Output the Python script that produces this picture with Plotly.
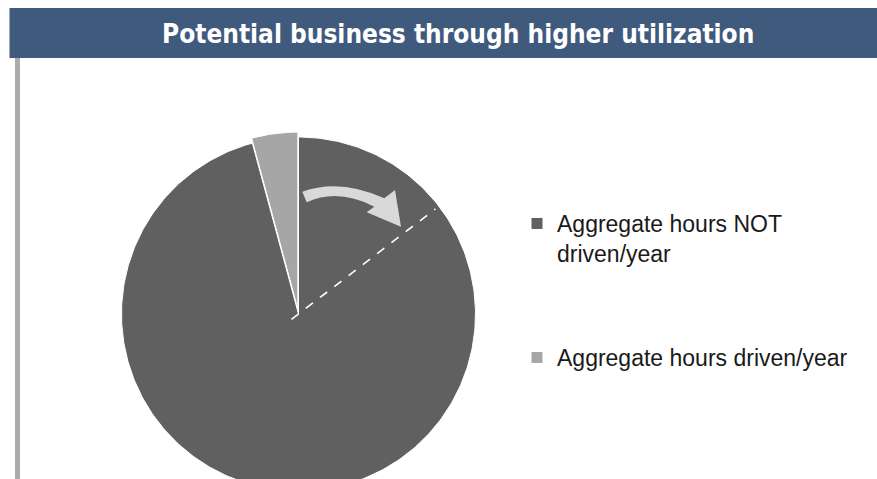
import math
import plotly.graph_objects as go

# ---- data ----
categories = ["Aggregate hours NOT driven/year", "Aggregate hours driven/year"]
legend_labels = ["Aggregate hours NOT<br>driven/year", "Aggregate hours driven/year"]
shares = [95.8, 4.2]
colors = ["#606060", "#A6A6A6"]
pulls = [0.0, 0.028]
title_text = "Potential business through higher utilization"
target_angle_deg = 52.5  # dashed marker line, clockwise from 12 o'clock

W, H = 877, 479
CX, CY, R = 298.5, 314.0, 177.0  # pixel geometry of the pie


def px_to_data(px, py):
    return (px - CX) / R, (CY - py) / R


fig = go.Figure()

total = sum(shares)
start = 0.0
for i, (cat, val) in enumerate(zip(categories, shares)):
    a0 = 2 * math.pi * start / total
    a1 = 2 * math.pi * (start + val) / total
    mid = (a0 + a1) / 2
    ox, oy = pulls[i] * math.sin(mid), pulls[i] * math.cos(mid)
    n = max(4, int(400 * val / total))
    xs = [ox]
    ys = [oy]
    for k in range(n + 1):
        t = a0 + (a1 - a0) * k / n
        xs.append(ox + math.sin(t))
        ys.append(oy + math.cos(t))
    xs.append(ox)
    ys.append(oy)
    fig.add_trace(go.Scatter(
        x=xs, y=ys, mode="lines", fill="toself",
        fillcolor=colors[i], line=dict(color="white", width=1),
        name=cat, showlegend=False, hoverinfo="name",
    ))
    start += val

# legend entries (square markers)
for i, lab in enumerate(legend_labels):
    fig.add_trace(go.Scatter(
        x=[None], y=[None], mode="markers",
        marker=dict(symbol="square", size=11, color=colors[i]),
        name=lab, showlegend=True,
        legend="legend" if i == 0 else "legend2",
    ))

# dashed target line
ta = math.radians(target_angle_deg)
r0, r1 = -0.05, 0.975
fig.add_shape(type="line", xref="x", yref="y",
              x0=r0 * math.sin(ta), y0=r0 * math.cos(ta),
              x1=r1 * math.sin(ta), y1=r1 * math.cos(ta),
              line=dict(color="white", width=1.6, dash="dash"))

# curved arrow
def P(px, py):
    x, y = px_to_data(px, py)
    return f"{x:.4f},{y:.4f}"

arrow_path = (
    f"M {P(302.3,191.7)} Q {P(340,178)} {P(384.3,198.3)} "
    f"L {P(395,190)} L {P(401,226.7)} L {P(366.7,212.3)} L {P(374.3,206.7)} "
    f"Q {P(338,188)} {P(306.7,202.3)} Z"
)
fig.add_shape(type="path", xref="x", yref="y", path=arrow_path,
              fillcolor="#D9D9D9", line=dict(width=0))

# title bar and left bar
fig.add_shape(type="rect", xref="paper", yref="paper",
              x0=9.5 / W, x1=1, y0=1 - 58 / H, y1=1 - 8 / H,
              fillcolor="#405A7E", line=dict(width=0), layer="above")
fig.add_shape(type="rect", xref="paper", yref="paper",
              x0=15 / W, x1=20 / W, y0=0, y1=1 - 58 / H,
              fillcolor="#ABABAB", line=dict(width=0), layer="above")
fig.add_annotation(text=f"<b>{title_text}</b>", xref="paper", yref="paper",
                   x=457.5 / W, y=1 - 34 / H, xanchor="center", yanchor="middle",
                   showarrow=False,
                   font=dict(family="DejaVu Sans Condensed, Arial", size=26, color="white"))

legend_font = dict(family="Liberation Sans, Arial", size=23, color="#1A1A1A")
fig.update_layout(
    width=W, height=H,
    margin=dict(l=0, r=0, t=0, b=0),
    paper_bgcolor="white", plot_bgcolor="white",
    xaxis=dict(range=[-CX / R, (W - CX) / R], visible=False, fixedrange=True),
    yaxis=dict(range=[-(H - CY) / R, CY / R], visible=False, fixedrange=True),
    legend=dict(x=517 / W, y=1 - 202 / H, xanchor="left", yanchor="top",
                font=legend_font, valign="top", bgcolor="rgba(0,0,0,0)"),
    legend2=dict(x=517 / W, y=1 - 336 / H, xanchor="left", yanchor="top",
                 font=legend_font, valign="top", bgcolor="rgba(0,0,0,0)"),
    showlegend=True,
)

fig.write_html("out.html")
